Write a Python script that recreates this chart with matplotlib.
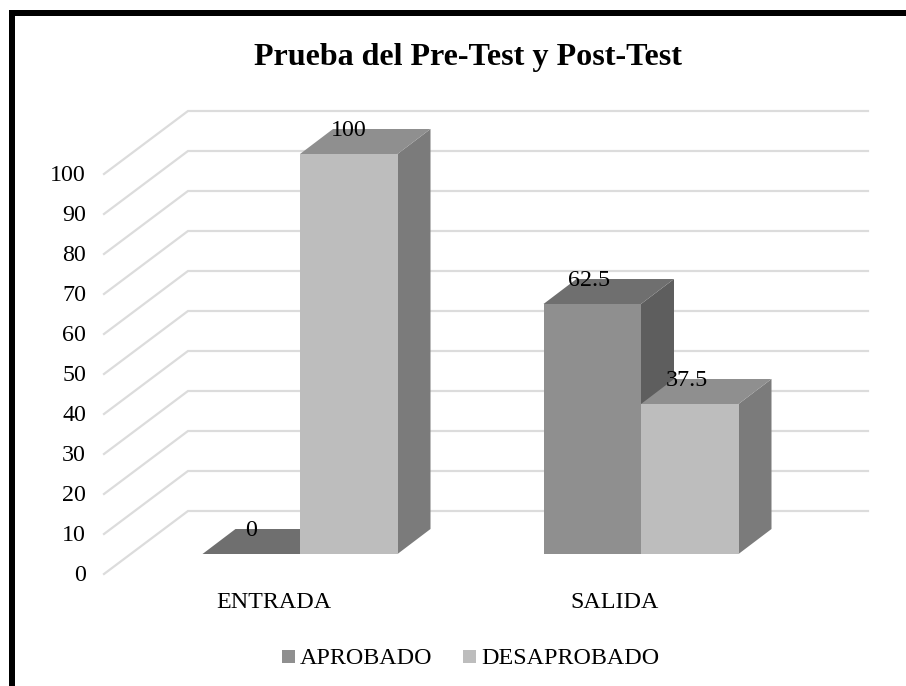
#!/usr/bin/env python

import matplotlib
matplotlib.use('Agg')
import matplotlib.pyplot as plt
from matplotlib.patches import Rectangle

plt.rcParams['font.family'] = ['Liberation Serif', 'DejaVu Serif']

title = 'Prueba del Pre-Test y Post-Test'
categories = ['ENTRADA', 'SALIDA']
series_names = ['APROBADO', 'DESAPROBADO']
aprobado = [0, 62.5]
desaprobado = [100, 37.5]
yticks = [0, 10, 20, 30, 40, 50, 60, 70, 80, 90, 100]

# face, top, side
colors_a = ['#8f8f8f', '#6f6f6f', '#5e5e5e']
colors_d = ['#bdbdbd', '#8f8f8f', '#7b7b7b']

W, H = 906, 686
PX_X = 341.0   # pixels per category
PX_Y = 4.0     # pixels per value unit
X0, Y0 = 300.0, 554.0  # pixel of category 0 / value 0, front of the bars
FS = 17.3
TXT_DY = 2.0 / PX_Y  # va=center sits a bit high with this font

bar_w = 97.5 / PX_X
dep_x = 33.0 / PX_X
dep_y = 25.0 / PX_Y

fig = plt.figure(figsize=(W / 100, H / 100), dpi=100)
ax = fig.add_axes([0, 0, 1, 1])
# whole figure as the axes, units are categories and percent
ax.set_xlim(-X0 / PX_X, (W - X0) / PX_X)
ax.set_ylim((Y0 - H) / PX_Y, Y0 / PX_Y)
ax.axis('off')


def xp(px):
    return (px - X0) / PX_X


def yp(py):
    return (Y0 - py) / PX_Y


# frame, only left and top
fig.add_artist(Rectangle((8.5 / W, 0), 6.5 / W, 1 - 10 / H, color='black', lw=0))
fig.add_artist(Rectangle((8.5 / W, 1 - 16 / H), 1, 6 / H, color='black', lw=0))

# walls
wall_off = yp(574)
wall_dy = 63.0 / PX_Y
for v in yticks:
    y = v + wall_off
    ax.plot([xp(104), xp(188), xp(868)], [y, y + wall_dy, y + wall_dy],
            color='#dcdcdc', lw=1.6, zorder=1, solid_joinstyle='miter')
    ax.text(xp(86), y - TXT_DY * 0.6, str(v), ha='right', va='center', fontsize=FS, color='black', zorder=6)


def draw_bar(x, v, cols, z):
    # x is the left edge of the front face
    ax.bar(x, v, width=bar_w, align='edge', color=cols[0], lw=0, zorder=z + 0.2)
    ax.fill([x, x + bar_w, x + bar_w + dep_x, x + dep_x], [v, v, v + dep_y, v + dep_y],
            color=cols[1], lw=0, zorder=z + 0.1)
    ax.fill([x + bar_w, x + bar_w + dep_x, x + bar_w + dep_x, x + bar_w],
            [0, dep_y, v + dep_y, v], color=cols[2], lw=0, zorder=z)


def value_label(x, v):
    # labels with a decimal sit a little left of the bar centre
    dx = -3 / PX_X if v % 1 else 0
    ax.text(x + dx, v + dep_y - TXT_DY, str(v), ha='center', va='center', fontsize=FS, zorder=6)


for i, cat in enumerate(categories):
    draw_bar(i - bar_w, aprobado[i], colors_a, 2)
    draw_bar(i, desaprobado[i], colors_d, 3)
    value_label(i - bar_w / 2, aprobado[i])
    value_label(i + bar_w / 2, desaprobado[i])
    ax.text(i - 26 / PX_X, yp(600) - TXT_DY, cat, ha='center', va='center', fontsize=FS, zorder=6)

ax.text(xp(467.5), yp(58), title, ha='center', va='center', fontsize=23.1, fontweight='bold', zorder=6)

# legend
for sx, tx, name, c in zip([282, 463], [300, 481], series_names, [colors_a[0], colors_d[0]]):
    ax.add_patch(Rectangle((xp(sx), yp(663)), 13 / PX_X, 13 / PX_Y, color=c, lw=0, zorder=6))
    ax.text(xp(tx), yp(656) - TXT_DY, name, ha='left', va='center', fontsize=FS, zorder=6)

fig.savefig('out.png', dpi=100)
